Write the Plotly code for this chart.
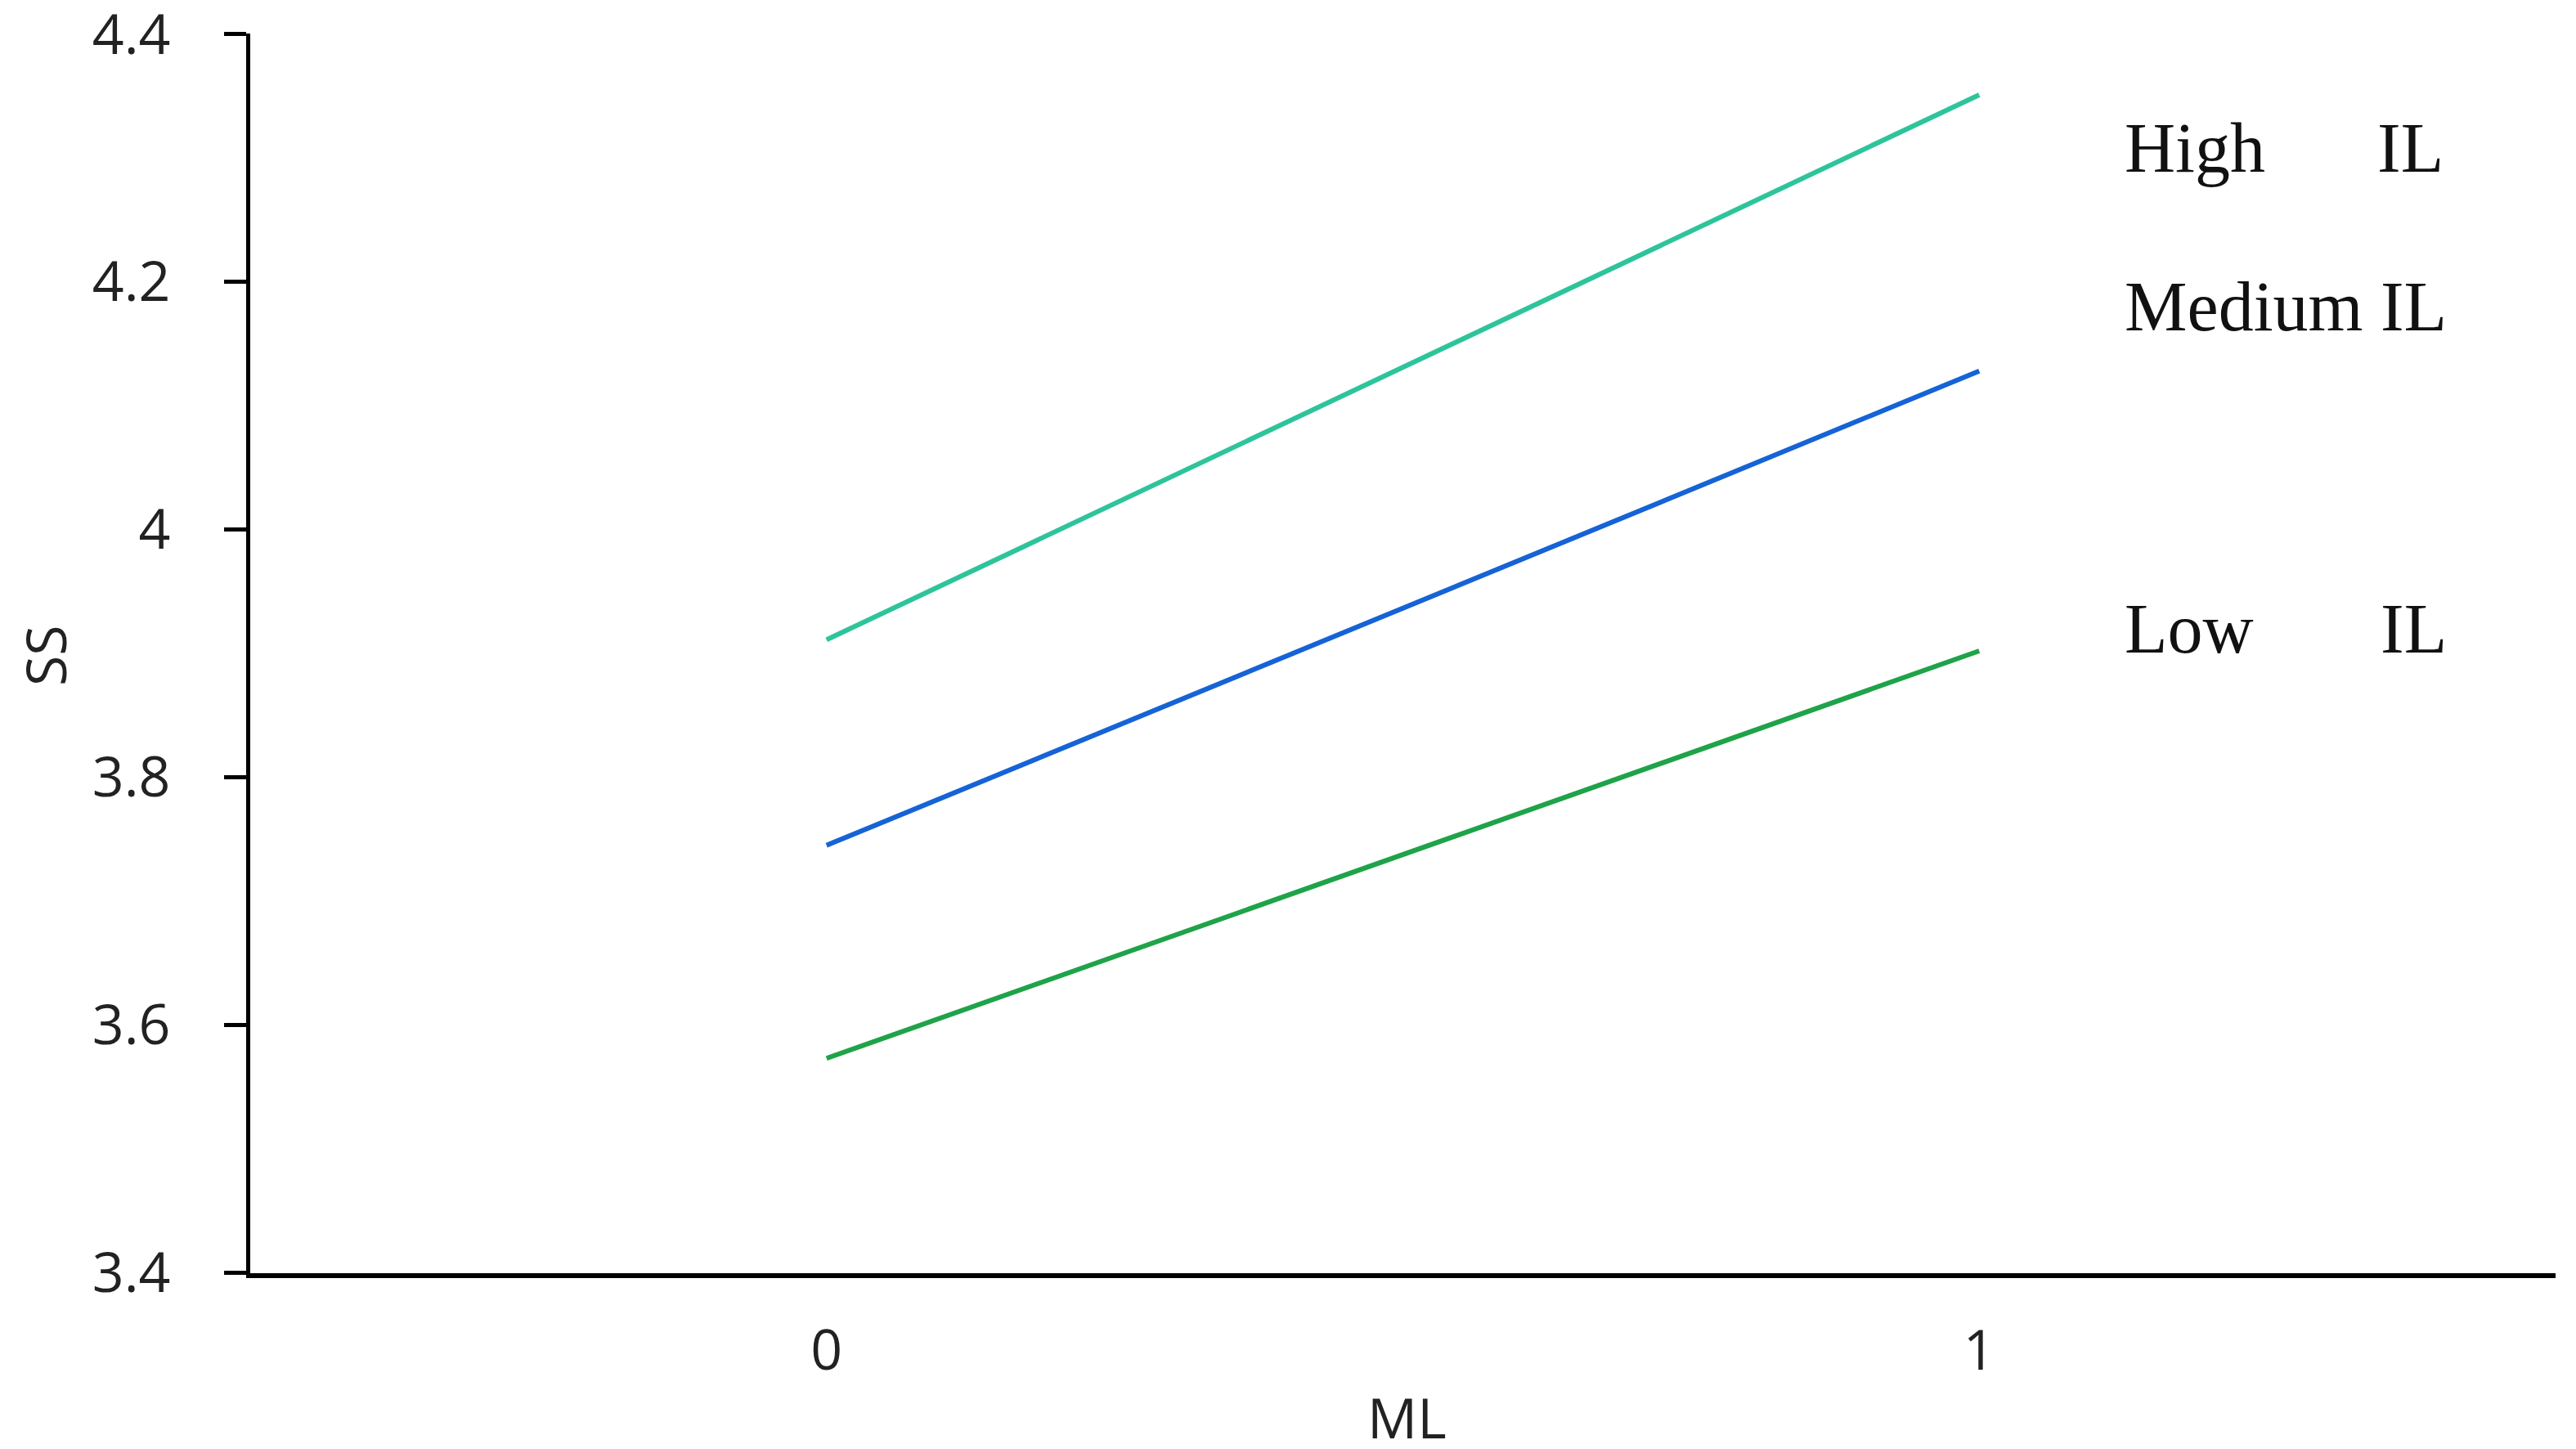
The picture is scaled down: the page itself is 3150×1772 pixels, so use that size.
import plotly.graph_objects as go

# Data
ml_levels = [0, 1]
high_il = [3.911, 4.351]
medium_il = [3.745, 4.128]
low_il = [3.573, 3.902]
y_tickvals = [3.4, 3.6, 3.8, 4.0, 4.2, 4.4]
y_ticktext = ["3.4", "3.6", "3.8", "4", "4.2", "4.4"]
x_tickvals = [0, 1]
x_ticktext = ["0", "1"]

series = [
    ("High IL", high_il, "#2ec49b"),
    ("Medium IL", medium_il, "#1563d6"),
    ("Low IL", low_il, "#1fa349"),
]

fig = go.Figure()
for name, vals, col in series:
    fig.add_trace(go.Scatter(x=ml_levels, y=vals, mode="lines", name=name,
                             line=dict(color=col, width=6)))

W, H = 3150, 1772
L, R, T, B = 298, 33, 33, 223

tick_font = dict(family="Open Sans, Noto Sans, sans-serif", size=68, color="#222222")
lab_font = dict(family="Liberation Serif, Times New Roman, serif", size=86, color="#111111")

fig.update_layout(
    width=W, height=H,
    margin=dict(l=L, r=R, t=T, b=B, autoexpand=False),
    paper_bgcolor="white", plot_bgcolor="white",
    showlegend=False,
    xaxis=dict(range=[-0.5, 1.5], tickvals=x_tickvals, ticktext=x_ticktext,
               showgrid=False, zeroline=False, showline=True, linecolor="black",
               linewidth=6, ticks="", tickfont=tick_font, ticklabelstandoff=30),
    yaxis=dict(range=[3.3995, 4.4005], tickvals=y_tickvals, ticktext=y_ticktext,
               showgrid=False, zeroline=False, showline=True, linecolor="black",
               linewidth=5, ticks="outside", ticklen=27, tickwidth=5, tickcolor="black",
               tickfont=tick_font, ticklabelstandoff=52, ticklabeloverflow="allow"),
)

def px_to_paper_x(xpx):
    return (xpx - L) / (W - L - R)

def px_to_paper_y(ypx):
    return (H - B - ypx) / (H - T - B)

# Axis titles
fig.add_annotation(text="ML", x=px_to_paper_x(1712), xref="paper", y=px_to_paper_y(1724), yref="paper",
                   xanchor="center", yanchor="middle", showarrow=False, font=tick_font)
fig.add_annotation(text="SS", x=px_to_paper_x(46), xref="paper", y=px_to_paper_y(794), yref="paper",
                   xanchor="center", yanchor="middle", showarrow=False, font=tick_font, textangle=-90)

# Line labels (right side)
labels = [
    ("High", 2588, 4.308), ("IL", 2897, 4.308),
    ("Medium IL", 2588, 4.180),
    ("Low", 2588, 3.920), ("IL", 2901, 3.920),
]
for txt, xpx, yv in labels:
    fig.add_annotation(text=txt, x=px_to_paper_x(xpx), xref="paper", y=yv, yref="y",
                       xanchor="left", yanchor="middle", showarrow=False, font=lab_font)

fig.write_html("out.html")
